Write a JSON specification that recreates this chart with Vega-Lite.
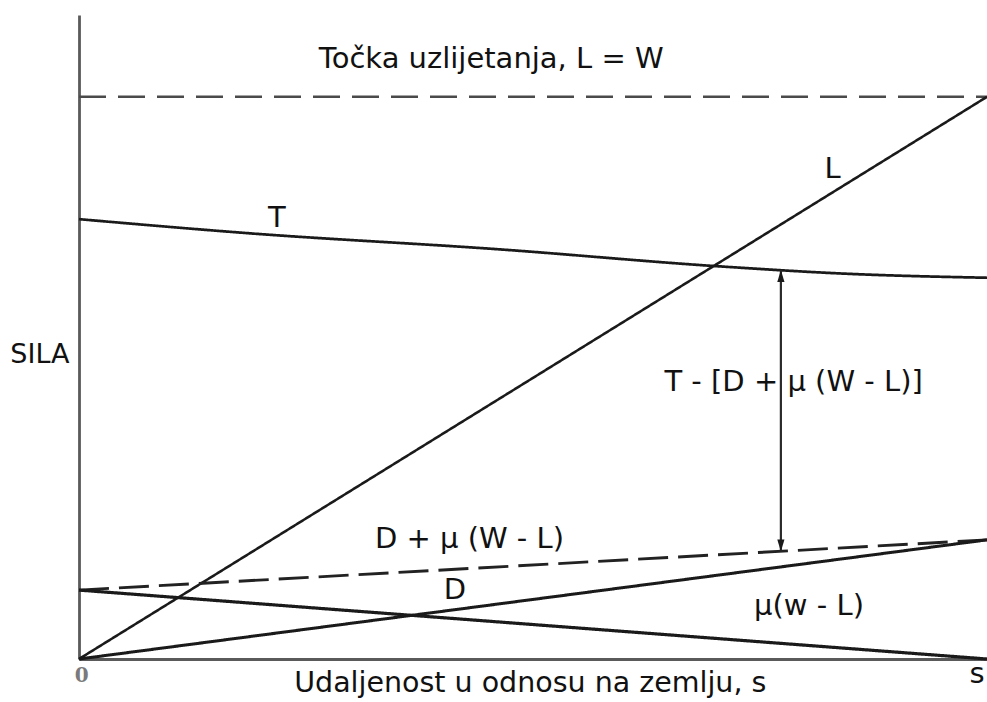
{
  "$schema": "https://vega.github.io/schema/vega-lite/v6.json",
  "width": 908,
  "height": 644,
  "autosize": {"type": "none"},
  "padding": {"left": 79, "top": 15, "right": 0, "bottom": 43},
  "background": "white",
  "config": {
    "view": {"stroke": null},
    "font": "DejaVu Sans",
    "axis": {"grid": false, "labels": false, "ticks": false, "domainColor": "#5a5a5a", "domainWidth": 2.8}
  },
  "datasets": {
    "lines": [
      {"series": "L = W", "u": 0, "v": 87.3}, {"series": "L = W", "u": 100, "v": 87.3},
      {"series": "L", "u": 0, "v": 0}, {"series": "L", "u": 100, "v": 87.3},
      {"series": "T", "u": 0, "v": 68.3}, {"series": "T", "u": 18.8, "v": 66.1}, {"series": "T", "u": 46.4, "v": 63.6},
      {"series": "T", "u": 70.2, "v": 61.0}, {"series": "T", "u": 84.9, "v": 59.8}, {"series": "T", "u": 100, "v": 59.2},
      {"series": "D + μ (W - L)", "u": 0, "v": 10.7}, {"series": "D + μ (W - L)", "u": 100, "v": 18.5},
      {"series": "D", "u": 0, "v": 0}, {"series": "D", "u": 100, "v": 18.5},
      {"series": "μ (W - L)", "u": 0, "v": 10.7}, {"series": "μ (W - L)", "u": 100, "v": 0}
    ],
    "arrow": [{"u": 77.3, "top": 60.4, "bottom": 16.7}],
    "labels": [
      {"text": "Točka uzlijetanja, L = W", "u": 45.4, "v": 91.8},
      {"text": "L", "u": 83.0, "v": 74.7},
      {"text": "T", "u": 21.8, "v": 67.1},
      {"text": "T - [D + μ (W - L)]", "u": 78.7, "v": 41.6},
      {"text": "D + μ (W - L)", "u": 43.0, "v": 17.2},
      {"text": "D", "u": 41.4, "v": 9.3},
      {"text": "μ(w - L)", "u": 80.4, "v": 6.8},
      {"text": "s", "u": 98.9, "v": -3.7}
    ],
    "xtitle": [{"text": "Udaljenost u odnosu na zemlju, s", "u": 49.7, "v": -5.2}],
    "side": [{"text": "SILA", "u": -4.3, "v": 46.0}],
    "origin": [{"text": "0", "u": 0.3, "v": -3.6}]
  },
  "layer": [
    {
      "data": {"name": "lines"},
      "mark": {"type": "line", "strokeCap": "butt", "interpolate": "monotone"},
      "encoding": {
        "x": {"field": "u", "type": "quantitative", "scale": {"domain": [0, 100], "nice": false, "zero": false}, "title": null},
        "y": {"field": "v", "type": "quantitative", "scale": {"domain": [0, 100], "nice": false, "zero": false}, "title": null},
        "detail": {"field": "series", "type": "nominal"},
        "color": {"field": "series", "type": "nominal", "legend": null,
          "scale": {"domain": ["L = W", "L", "T", "D + μ (W - L)", "D", "μ (W - L)"],
                    "range": ["#4a4a4a", "#1a1a1a", "#1a1a1a", "#222222", "#1a1a1a", "#1a1a1a"]}},
        "strokeDash": {"field": "series", "type": "nominal", "legend": null,
          "scale": {"domain": ["L = W", "L", "T", "D + μ (W - L)", "D", "μ (W - L)"],
                    "range": [[27, 12], [1, 0], [1, 0], [30, 10], [1, 0], [1, 0]]}},
        "strokeWidth": {"field": "series", "type": "nominal", "legend": null,
          "scale": {"domain": ["L = W", "L", "T", "D + μ (W - L)", "D", "μ (W - L)"],
                    "range": [2.4, 3.2, 3.2, 3.2, 3, 3]}}
      }
    },
    {
      "data": {"name": "arrow"},
      "mark": {"type": "rule", "color": "#2a2a2a", "strokeWidth": 2.2},
      "encoding": {
        "x": {"field": "u", "type": "quantitative", "scale": {"domain": [0, 100], "nice": false, "zero": false}, "title": null},
        "y": {"field": "top", "type": "quantitative", "scale": {"domain": [0, 100], "nice": false, "zero": false}, "title": null},
        "y2": {"field": "bottom"}
      }
    },
    {
      "data": {"name": "arrow"},
      "mark": {"type": "point", "filled": true, "color": "#1a1a1a", "opacity": 1, "size": 144, "shape": "M0,-1L0.6,1L-0.6,1Z", "yOffset": 6},
      "encoding": {
        "x": {"field": "u", "type": "quantitative", "title": null},
        "y": {"field": "top", "type": "quantitative", "title": null}
      }
    },
    {
      "data": {"name": "arrow"},
      "mark": {"type": "point", "filled": true, "color": "#1a1a1a", "opacity": 1, "size": 144, "shape": "M0,1L0.6,-1L-0.6,-1Z", "yOffset": -6},
      "encoding": {
        "x": {"field": "u", "type": "quantitative", "title": null},
        "y": {"field": "bottom", "type": "quantitative", "title": null}
      }
    },
    {
      "data": {"name": "labels"},
      "mark": {"type": "text", "font": "DejaVu Sans", "fontSize": 29, "color": "#111111", "align": "center", "baseline": "alphabetic"},
      "encoding": {
        "x": {"field": "u", "type": "quantitative", "title": null},
        "y": {"field": "v", "type": "quantitative", "title": null},
        "text": {"field": "text"}
      }
    },
    {
      "data": {"name": "xtitle"},
      "mark": {"type": "text", "font": "DejaVu Sans", "fontSize": 28.5, "color": "#111111", "align": "center", "baseline": "alphabetic"},
      "encoding": {
        "x": {"field": "u", "type": "quantitative", "title": null},
        "y": {"field": "v", "type": "quantitative", "title": null},
        "text": {"field": "text"}
      }
    },
    {
      "data": {"name": "side"},
      "mark": {"type": "text", "font": "DejaVu Sans", "fontSize": 27, "color": "#111111", "align": "center", "baseline": "alphabetic"},
      "encoding": {
        "x": {"field": "u", "type": "quantitative", "title": null},
        "y": {"field": "v", "type": "quantitative", "title": null},
        "text": {"field": "text"}
      }
    },
    {
      "data": {"name": "origin"},
      "mark": {"type": "text", "font": "DejaVu Serif", "fontWeight": "bold", "fontSize": 20, "color": "#7a7a7a", "align": "center", "baseline": "alphabetic"},
      "encoding": {
        "x": {"field": "u", "type": "quantitative", "title": null},
        "y": {"field": "v", "type": "quantitative", "title": null},
        "text": {"field": "text"}
      }
    }
  ]
}
